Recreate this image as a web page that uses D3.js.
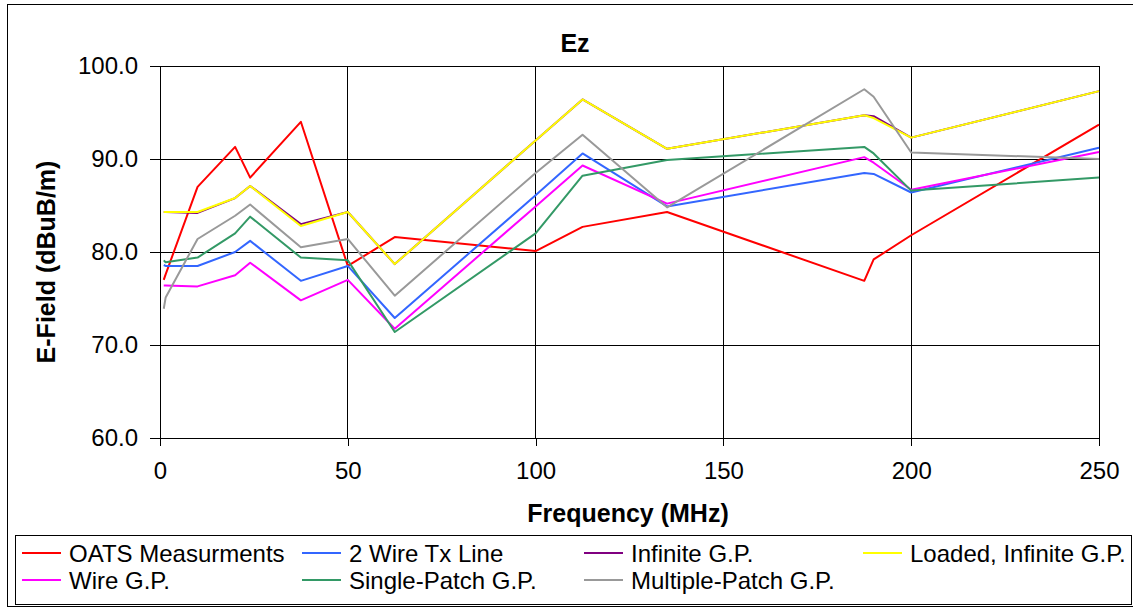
<!DOCTYPE html>
<html>
<head>
<meta charset="utf-8">
<script src="https://cdn.jsdelivr.net/npm/d3@7"></script>
<style>
  html, body { margin: 0; padding: 0; background: #fff; }
  svg { display: block; font-family: Arial, "Liberation Sans", Helvetica, sans-serif; }
</style>
</head>
<body>
<svg id="chart" width="1133" height="609"></svg>
<script>
// Frequency points (MHz)
const frequencies = [1, 1.5, 10, 20, 24, 37.5, 50, 62.5, 100, 112.5, 135, 187.5, 190, 200, 250];

// E-field values (dBuV/m) per model
const oatsMeasurements  = [77.0, 77.6, 87.0, 91.3, 88.0, 94.0, 78.5, 81.6, 80.1, 82.7, 84.3, 76.9, 79.2, 81.8, 93.7];
const twoWireTxLine     = [78.6, 78.5, 78.5, 80.0, 81.2, 76.9, 78.5, 72.9, 86.1, 90.6, 84.9, 88.5, 88.4, 86.4, 91.2];
const infiniteGP        = [84.3, 84.3, 84.2, 85.8, 87.1, 83.0, 84.3, 78.7, 92.0, 96.4, 91.1, 94.7, 94.6, 92.3, 97.3];
const loadedInfiniteGP  = [84.3, 84.3, 84.3, 85.8, 87.1, 82.8, 84.3, 78.7, 92.0, 96.4, 91.1, 94.7, 94.4, 92.3, 97.3];
const wireGP            = [76.4, 76.4, 76.3, 77.5, 78.85, 74.8, 77.0, 71.75, 84.9, 89.3, 85.2, 90.2, 89.6, 86.7, 90.75];
const singlePatchGP     = [79.1, 78.9, 79.4, 82.0, 83.8, 79.4, 79.1, 71.4, 82.0, 88.2, 89.9, 91.3, 90.6, 86.6, 88.0];
const multiplePatchGP   = [73.9, 75.1, 81.4, 83.9, 85.1, 80.5, 81.4, 75.3, 88.5, 92.6, 84.8, 97.5, 96.7, 90.7, 90.0];

const seriesNames  = ["OATS Measurments", "2 Wire Tx Line", "Infinite G.P.", "Loaded, Infinite G.P.",
                      "Wire G.P.", "Single-Patch G.P.", "Multiple-Patch G.P."];
const seriesValues = [oatsMeasurements, twoWireTxLine, infiniteGP, loadedInfiniteGP,
                      wireGP, singlePatchGP, multiplePatchGP];
const seriesColors = ["#ff0000", "#3366ff", "#800080", "#ffff00", "#ff00ff", "#339966", "#999999"];

const xTicks = [0, 50, 100, 150, 200, 250];
const yTicks = [60, 70, 80, 90, 100];

const svg = d3.select("#chart");

// chart frame
svg.append("rect")
  .attr("x", 7.5).attr("y", 4.5)
  .attr("width", 1140).attr("height", 602)
  .attr("fill", "#fff").attr("stroke", "#000").attr("stroke-width", 1);

const plot = { left: 160, right: 1099, top: 66, bottom: 438 };

const x = d3.scaleLinear().domain([0, 250]).range([plot.left, plot.right]);
const y = d3.scaleLinear().domain([60, 100]).range([plot.bottom, plot.top]);

// gridlines
const grid = svg.append("g").attr("stroke", "#000").attr("stroke-width", 1).attr("shape-rendering", "crispEdges");
grid.selectAll("line.h").data(yTicks).join("line")
  .attr("x1", plot.left).attr("x2", plot.right)
  .attr("y1", d => y(d)).attr("y2", d => y(d));
grid.selectAll("line.v").data(xTicks).join("line")
  .attr("y1", plot.top).attr("y2", plot.bottom)
  .attr("x1", d => x(d)).attr("x2", d => x(d));

// axes
const xAxis = d3.axisBottom(x).tickValues(xTicks).tickSize(8).tickPadding(16).tickFormat(d3.format("d"));
const yAxis = d3.axisLeft(y).tickValues(yTicks).tickSize(10).tickPadding(12).tickFormat(d3.format(".1f"));

const gx = svg.append("g").attr("transform", `translate(0,${plot.bottom})`).call(xAxis);
const gy = svg.append("g").attr("transform", `translate(${plot.left},0)`).call(yAxis);
[gx, gy].forEach(g => {
  g.select(".domain").remove();
  g.selectAll(".tick line").attr("stroke", "#000").attr("shape-rendering", "crispEdges");
  g.selectAll(".tick text").attr("fill", "#000").style("font-size", "24px")
    .style("font-family", "Arial, 'Liberation Sans', sans-serif");
});

// series lines
const line = d3.line().x((d, i) => x(frequencies[i])).y(d => y(d));
svg.append("g").selectAll("path").data(seriesValues).join("path")
  .attr("d", d => line(d))
  .attr("fill", "none")
  .attr("stroke", (d, i) => seriesColors[i])
  .attr("stroke-width", 2)
  .attr("stroke-linejoin", "round");

// titles
svg.append("text").attr("x", 575).attr("y", 52).attr("text-anchor", "middle")
  .style("font-size", "25px").style("font-weight", "bold").text("Ez");
svg.append("text").attr("x", 628).attr("y", 522).attr("text-anchor", "middle")
  .style("font-size", "25px").style("font-weight", "bold").text("Frequency (MHz)");
svg.append("text").attr("transform", "translate(55,262) rotate(-90)").attr("text-anchor", "middle")
  .style("font-size", "25px").style("font-weight", "bold").text("E-Field (dBuB/m)");

// legend
svg.append("rect").attr("x", 15.5).attr("y", 535.5).attr("width", 1116).attr("height", 69)
  .attr("fill", "#fff").attr("stroke", "#000").attr("stroke-width", 1);
const colX = [22, 302, 584, 863];
const rowY = [553, 580];
const legend = svg.append("g").selectAll("g").data(seriesNames).join("g")
  .attr("transform", (d, i) => `translate(${colX[i % 4]},${rowY[Math.floor(i / 4)]})`);
legend.append("line").attr("x1", 0).attr("x2", 39).attr("y1", 0).attr("y2", 0)
  .attr("stroke", (d, i) => seriesColors[i]).attr("stroke-width", 2);
legend.append("text").attr("x", 47).attr("y", 8.5)
  .style("font-size", "24px").text(d => d);
</script>
</body>
</html>
